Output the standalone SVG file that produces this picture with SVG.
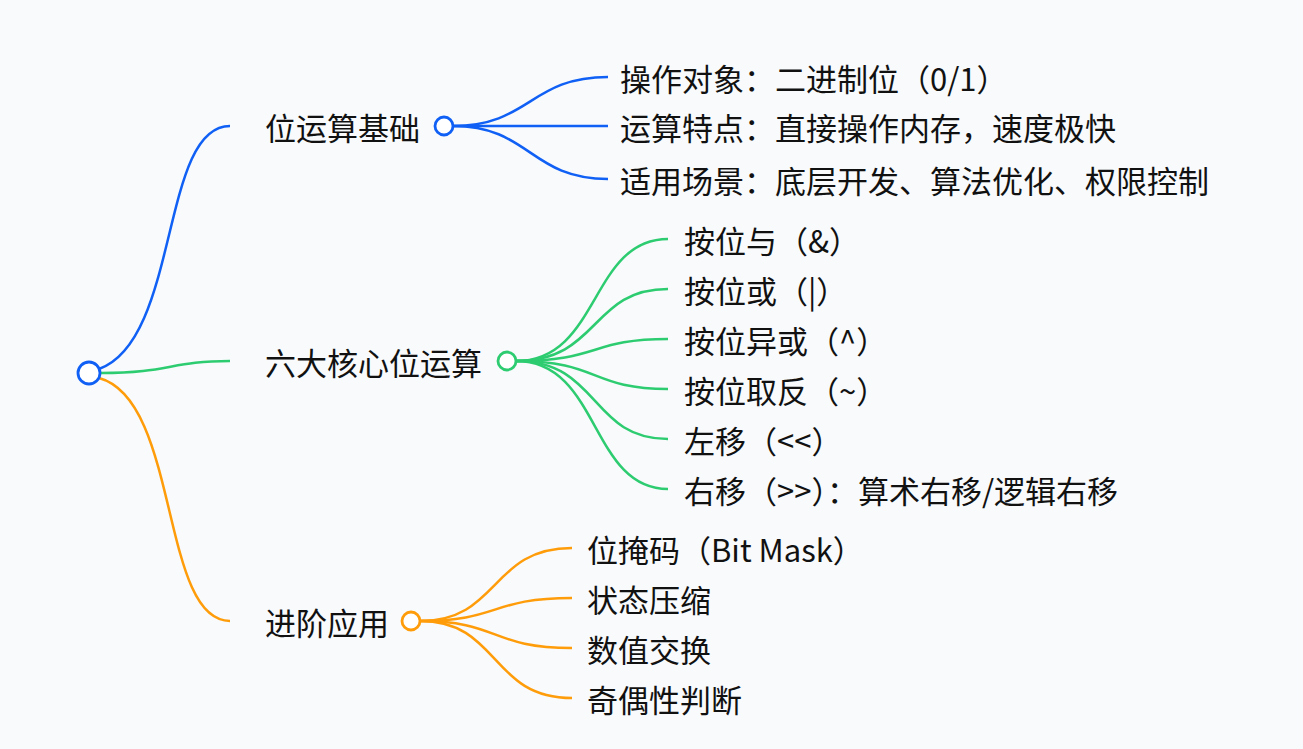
<svg xmlns="http://www.w3.org/2000/svg" width="1303" height="749" viewBox="0 0 1303 749">
<style>
text{font-family:"Noto Sans CJK SC","Noto Sans",sans-serif;font-size:31px;fill:#111;dominant-baseline:central}
.c path{fill:none;stroke-width:2.5}
.b{stroke:#1060f5}.g{stroke:#2ecc71}.o{stroke:#ff9c0a}
circle{fill:#fff;stroke-width:2.8}
</style>
<rect width="1303" height="749" fill="#f8fafc"/>
<g class="c" id="connectors">
<path class="b" d="M99,369 C180,340 160,126 230,126"/>
<path class="g" d="M101,373 C170,373 170,361 230,361"/>
<path class="o" d="M99,378 C180,400 160,621 230,621"/>
<path class="b" d="M453,126 C530,126 530,77 608,77"/>
<path class="b" d="M453,126 L608,126"/>
<path class="b" d="M453,126 C530,126 530,179 608,179"/>
<path class="g" d="M516,361 C600,361 590,239 668,239"/>
<path class="g" d="M516,361 C600,361 590,289 668,289"/>
<path class="g" d="M516,361 C600,361 590,339 668,339"/>
<path class="g" d="M516,361 C600,361 590,389 668,389"/>
<path class="g" d="M516,361 C600,361 590,439 668,439"/>
<path class="g" d="M516,361 C600,361 590,489 668,489"/>
<path class="o" d="M420,621 C500,621 490,548 572,548"/>
<path class="o" d="M420,621 C500,621 490,598 572,598"/>
<path class="o" d="M420,621 C500,621 490,648 572,648"/>
<path class="o" d="M420,621 C500,621 490,698 572,698"/>
</g>
<g id="root"><circle cx="89" cy="373" r="11" class="b"/></g>
<g id="n1"><text x="265" y="126">位运算基础</text><circle cx="444" cy="126" r="9" class="b"/></g>
<g id="n2"><text x="265" y="361">六大核心位运算</text><circle cx="507" cy="361" r="9" class="g"/></g>
<g id="n3"><text x="265" y="621">进阶应用</text><circle cx="411" cy="621" r="9" class="o"/></g>
<g id="n1a"><text x="620" y="77">操作对象：二进制位（0/1）</text></g>
<g id="n1b"><text x="620" y="126">运算特点：直接操作内存，速度极快</text></g>
<g id="n1c"><text x="620" y="179">适用场景：底层开发、算法优化、权限控制</text></g>
<g id="n2a"><text x="684" y="239">按位与（&amp;）</text></g>
<g id="n2b"><text x="684" y="289">按位或（|）</text></g>
<g id="n2c"><text x="684" y="339">按位异或（^）</text></g>
<g id="n2d"><text x="684" y="389">按位取反（~）</text></g>
<g id="n2e"><text x="684" y="439">左移（&lt;&lt;）</text></g>
<g id="n2f"><text x="684" y="489">右移（&gt;&gt;）：算术右移/逻辑右移</text></g>
<g id="n3a"><text x="587" y="548">位掩码（Bit Mask）</text></g>
<g id="n3b"><text x="587" y="598">状态压缩</text></g>
<g id="n3c"><text x="587" y="648">数值交换</text></g>
<g id="n3d"><text x="587" y="698">奇偶性判断</text></g>
</svg>
